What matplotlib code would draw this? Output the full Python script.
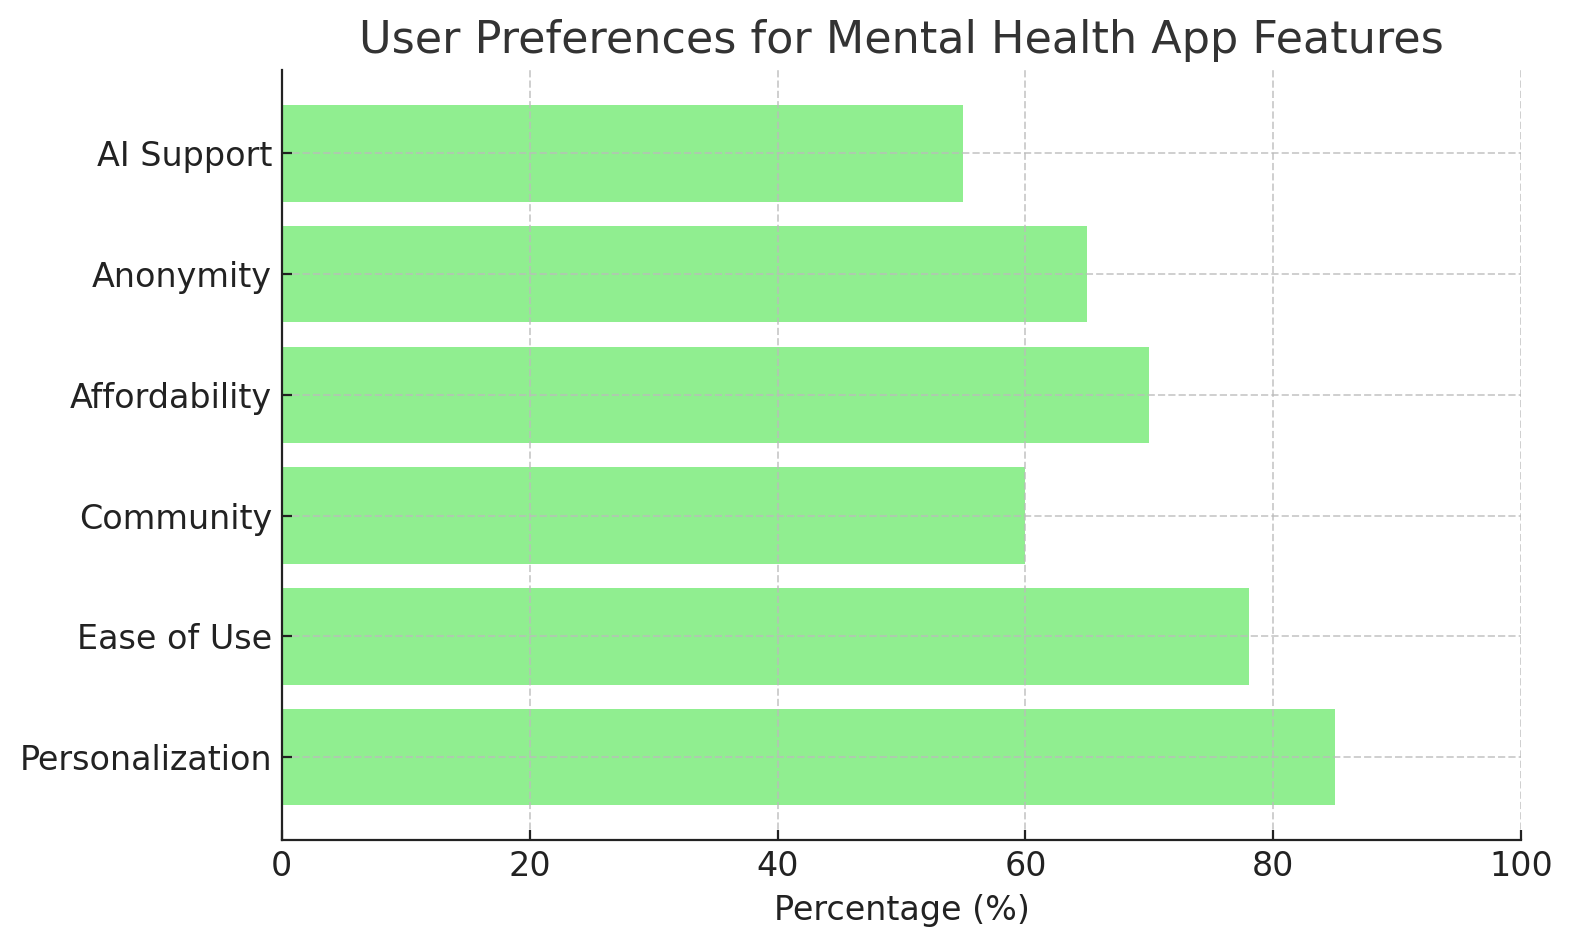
import matplotlib.pyplot as plt

# datos
features = ["Personalization", "Ease of Use", "Community", "Affordability", "Anonymity", "AI Support"]
percentages = [85, 78, 60, 70, 65, 55]

fig, ax = plt.subplots(figsize=(7.87, 4.735), dpi=200)
fig.subplots_adjust(left=0.179, right=0.9665, top=0.926, bottom=0.1125)

ax.barh(features, percentages, color="lightgreen", height=0.8)
ax.set_xlim(0, 100)
ax.set_title("User Preferences for Mental Health App Features", fontsize=16, color="#333333")
ax.set_xlabel("Percentage (%)", fontsize=12, color="#222222")
ax.tick_params(labelsize=12, colors="#222222", direction="in")
ax.grid(True, linestyle="--", color="#bbbbbb", alpha=0.7, linewidth=0.7)
ax.spines["top"].set_visible(False)
ax.spines["right"].set_visible(False)
for s in ("left", "bottom"):
    ax.spines[s].set_color("#222222")

plt.savefig("out.png")
